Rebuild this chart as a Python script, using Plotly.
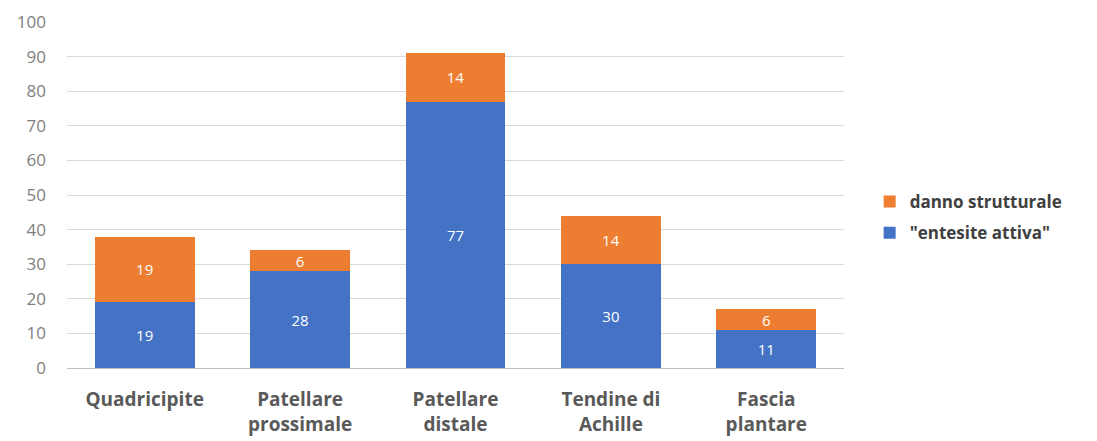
import plotly.graph_objects as go

categories = ["Quadricipite", "Patellare<br>prossimale", "Patellare<br>distale",
              "Tendine di<br>Achille", "Fascia<br>plantare"]
entesite_attiva = [19, 28, 77, 30, 11]
danno_strutturale = [19, 6, 14, 14, 6]
y_ticks = list(range(0, 101, 10))

BLUE = "#4472C4"
ORANGE = "#ED7D31"
FONT = "Open Sans, Noto Sans, sans-serif"

fig = go.Figure()
fig.add_trace(go.Bar(
    name='"entesite attiva"', x=categories, y=entesite_attiva,
    legendgroup="a", legendrank=2,
    marker=dict(color=BLUE, line=dict(width=0)),
    text=entesite_attiva, textposition="inside", insidetextanchor="middle",
    textangle=0, textfont=dict(color="white", size=15, family=FONT),
    constraintext="none",
))
fig.add_trace(go.Bar(
    name="danno strutturale", x=categories, y=danno_strutturale,
    legendgroup="b", legendrank=1,
    marker=dict(color=ORANGE, line=dict(width=0)),
    text=danno_strutturale, textposition="inside", insidetextanchor="middle",
    textangle=0, textfont=dict(color="white", size=15, family=FONT),
    constraintext="none",
))

fig.update_layout(
    barmode="stack",
    bargap=0.357,
    width=1097, height=441,
    margin=dict(l=67, r=253, t=22, b=73),
    paper_bgcolor="white", plot_bgcolor="white",
    font=dict(family=FONT, color="#595959"),
    legend=dict(
        traceorder="grouped",
        x=1.033, y=0.435, xanchor="left", yanchor="middle",
        font=dict(size=17, color="#404040", family=FONT, weight="bold"),
        itemwidth=30, tracegroupgap=6,
    ),
    xaxis=dict(
        showgrid=False, showline=False, ticks="", automargin=False,
        tickfont=dict(size=19, color="#595959", family=FONT, weight="bold"),
        ticklabelstandoff=18,
    ),
    yaxis=dict(
        range=[0, 100], tickvals=y_ticks, automargin=False,
        showgrid=True, gridcolor="#D9D9D9", gridwidth=1,
        zeroline=True, zerolinecolor="#BFBFBF", zerolinewidth=1,
        tickfont=dict(size=17, color="#808080", family=FONT),
        ticks="", ticklabelstandoff=20,
    ),
)

fig.write_html("out.html")
